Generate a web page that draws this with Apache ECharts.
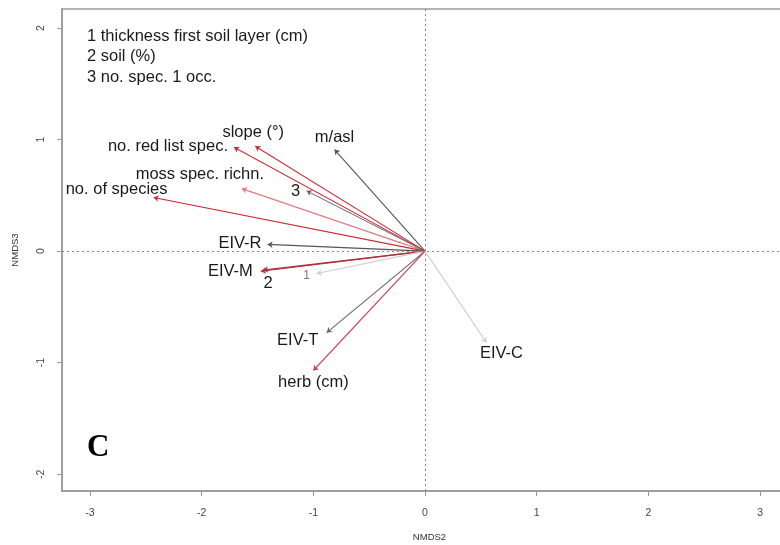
<!DOCTYPE html>
<html><head><meta charset="utf-8">
<script src="https://cdn.jsdelivr.net/npm/echarts@6/dist/echarts.min.js"></script>
<style>html,body{margin:0;padding:0;background:#fff}#c{width:780px;height:545px}</style>
</head><body><div id="c"></div>
<script>
// ---- data ----
const names = ['m/asl','slope (°)','no. red list spec.','moss spec. richn.','3','no. of species','EIV-R','EIV-M','2','1','EIV-T','herb (cm)','EIV-C'];
const nmds2 = [-0.81,-1.52,-1.71,-1.64,-1.06,-2.43,-1.41,-1.47,-1.45,-0.97,-0.88,-1.00,0.55];
const nmds3 = [0.91,0.94,0.93,0.56,0.54,0.48,0.06,-0.18,-0.17,-0.20,-0.73,-1.07,-0.82];
const xTicks = [-3,-2,-1,0,1,2,3];
const yTicks = [-2,-1,0,1,2];
const noteLines = ['1 thickness first soil layer (cm)','2 soil (%)','3 no. spec. 1 occ.'];

// ---- styles ----
const RED='#cc2a36', DARK='#555555', LIGHT='#cfcfcf';
const colors = {'m/asl':DARK,'slope (°)':RED,'no. red list spec.':RED,'moss spec. richn.':'#e27a80','3':'#666666',
  'no. of species':RED,'EIV-R':DARK,'EIV-M':RED,'2':'#a8323a','1':LIGHT,'EIV-T':'#666666','herb (cm)':'#d2404a','EIV-C':LIGHT};
const place = { // [dx, dy, align]
  'm/asl':[0,-12,'center'],'slope (°)':[-2,-14,'center'],'no. red list spec.':[-6,-1,'right'],
  'moss spec. richn.':[-42,-14,'center'],'3':[-11,1,'center'],'no. of species':[-37,-8,'center'],
  'EIV-R':[-6,-1,'right'],'EIV-M':[-8,0,'right'],'2':[5,13,'center'],'1':[-10,2,'center'],
  'EIV-T':[-29,8,'center'],'herb (cm)':[0,12,'center'],'EIV-C':[15,11,'center']};

const FONT='"Liberation Sans", Arial, sans-serif';
const arrows = names.map((n,i)=>({coords:[[0,0],[nmds2[i],nmds3[i]]], lineStyle:{color:colors[n]}}));
const pts = names.map((n,i)=>{
  const p=place[n];
  const small = n==='1';
  return {value:[nmds2[i],nmds3[i]], label:{show:true, formatter:n, position:'inside', offset:[p[0],p[1]], align:p[2],
    verticalAlign:'middle', fontSize: small?12:16.5, color: small?'#777':'#1a1a1a', fontFamily:FONT}};
});

const chart = echarts.init(document.getElementById('c'), null, {renderer:'canvas'});
chart.setOption({
  animation:false,
  grid:{left:62, top:9, width:735, height:482, show:true, borderColor:'#999', borderWidth:1.5, containLabel:false, outerBoundsMode:'none'},
  xAxis:{type:'value', min:-3.25, max:3.33, splitLine:{show:false},
    axisLine:{show:true, onZero:false, lineStyle:{color:'#999', width:1.5}},
    axisTick:{show:true, customValues:xTicks, length:5, lineStyle:{color:'#999'}},
    axisLabel:{customValues:xTicks, fontSize:10.5, color:'#444', margin:17, fontFamily:FONT},
    name:'NMDS2', nameLocation:'middle', nameGap:41, nameTextStyle:{fontSize:9.5, color:'#333', fontFamily:FONT}},
  yAxis:{type:'value', min:-2.15, max:2.17, splitLine:{show:false},
    axisLine:{show:true, onZero:false, lineStyle:{color:'#999', width:1.5}},
    axisTick:{show:true, customValues:yTicks, length:5, lineStyle:{color:'#999'}},
    axisLabel:{customValues:yTicks, rotate:90, fontSize:10.5, color:'#444', margin:15, fontFamily:FONT},
    name:'NMDS3', nameLocation:'middle', nameGap:42, nameTextStyle:{fontSize:9.5, color:'#333', fontFamily:FONT}},
  series:[
    {type:'lines', coordinateSystem:'cartesian2d', polyline:false, symbol:['none','arrow'], symbolSize:5,
     lineStyle:{width:1.1, opacity:1}, data:arrows, silent:true, z:3},
    {type:'scatter', symbolSize:0, itemStyle:{opacity:1}, data:pts, z:4,
     markLine:{silent:true, symbol:'none', label:{show:false}, animation:false,
       lineStyle:{type:[2,3], color:'#888', width:1}, data:[{xAxis:0},{yAxis:0}]}}
  ],
  graphic:[
    {type:'text', left:87, top:26, style:{text:noteLines.join('\n'), font:'16.5px '+FONT, lineHeight:20.5, fill:'#1a1a1a'}},
    {type:'text', left:87, top:432, style:{text:'C', font:'bold 31px "Liberation Serif", "Times New Roman", serif', fill:'#000'}}
  ]
});
</script></body></html>
